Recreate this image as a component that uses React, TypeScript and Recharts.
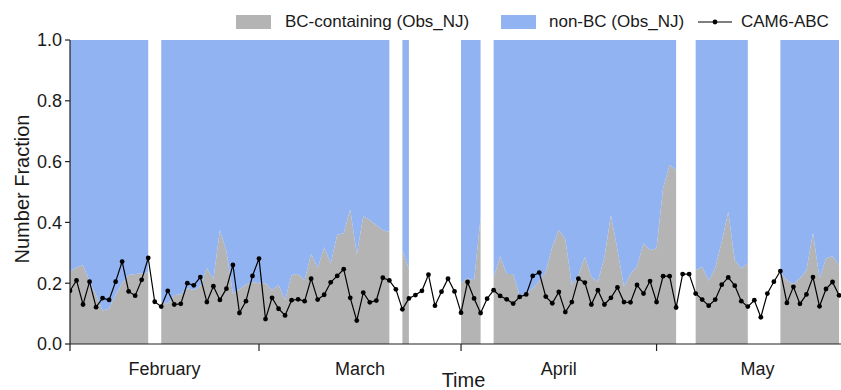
import React from 'react';
import { ComposedChart, Area, Line, XAxis, YAxis } from 'recharts';

// Day index counted from 1 February (leap year: Feb has 29 days)
const dayIndex: number[] = Array.from({ length: 119 }, (_, i) => i);

// Observed BC-containing number fraction (Obs_NJ); null = no observation
const bcContaining: (number | null)[] = [
  0.238, 0.252, 0.26, 0.205, 0.161, 0.109, 0.117, 0.161, 0.2, 0.227,
  0.23, 0.232, 0.235, null, 0.14, 0.132, 0.161, 0.163, 0.183, 0.178,
  0.191, 0.249, 0.213, 0.375, 0.305, 0.165, 0.18, 0.196, 0.204, 0.2,
  0.2, 0.178, 0.194, 0.145, 0.227, 0.23, 0.21, 0.297, 0.249, 0.318,
  0.265, 0.359, 0.364, 0.443, 0.295, 0.42, 0.408, 0.391, 0.374, 0.369,
  null, 0.309, 0.247, null, null, null, null, null, null, null,
  0.2, 0.216, 0.21, 0.415, null, 0.218, 0.289, 0.23, 0.23, 0.158,
  0.165, 0.183, 0.207, 0.238, 0.32, 0.375, 0.345, 0.194, 0.226, 0.287,
  0.22, 0.205, 0.285, 0.424, 0.31, 0.189, 0.23, 0.255, 0.331, 0.308,
  0.315, 0.512, 0.589, 0.572, null, null, 0.243, 0.253, 0.208, 0.25,
  0.336, 0.435, 0.276, 0.248, 0.266, null, null, null, null, 0.238,
  0.21, 0.197, 0.216, 0.243, 0.366, 0.216, 0.282, 0.289, 0.26,
];

// Model CAM6-ABC BC-containing number fraction
const cam6Abc: number[] = [
  0.175, 0.209, 0.13, 0.205, 0.121, 0.151, 0.145, 0.205, 0.271, 0.173,
  0.159, 0.211, 0.283, 0.139, 0.123, 0.175, 0.13, 0.132, 0.2, 0.193,
  0.22, 0.138, 0.19, 0.145, 0.182, 0.26, 0.102, 0.141, 0.224, 0.281,
  0.082, 0.152, 0.116, 0.094, 0.144, 0.147, 0.141, 0.215, 0.146, 0.162,
  0.203, 0.224, 0.246, 0.152, 0.077, 0.169, 0.137, 0.143, 0.218, 0.209,
  0.18, 0.114, 0.15, 0.161, 0.175, 0.228, 0.126, 0.172, 0.215, 0.173,
  0.103, 0.204, 0.15, 0.102, 0.149, 0.177, 0.158, 0.147, 0.133, 0.155,
  0.163, 0.224, 0.235, 0.156, 0.134, 0.171, 0.105, 0.138, 0.215, 0.202,
  0.13, 0.177, 0.13, 0.152, 0.186, 0.138, 0.137, 0.194, 0.166, 0.207,
  0.138, 0.223, 0.223, 0.12, 0.23, 0.23, 0.166, 0.146, 0.126, 0.146,
  0.195, 0.219, 0.192, 0.141, 0.123, 0.144, 0.088, 0.166, 0.205, 0.24,
  0.135, 0.188, 0.132, 0.163, 0.22, 0.124, 0.181, 0.204, 0.16,
];

const monthStartDays = [0, 29, 60, 90];
const monthLabelDays = [14.5, 44.5, 75, 105.5];
const monthNames = ['February', 'March', 'April', 'May'];
const yTicks = [0, 0.2, 0.4, 0.6, 0.8, 1.0];

const GRAY = '#b4b4b4';
const BLUE = '#91b3f1';
const FONT = '"Liberation Sans", Arial, Helvetica, sans-serif';
const AXIS = '#222';

const data = dayIndex.map((d, i) => {
  const bc = bcContaining[i];
  return {
    day: d,
    bc,
    nonbc: bc == null ? null : 1 - bc,
    cam: cam6Abc[i],
  };
});

const MonthTick = (props: any) => {
  const { x, y, payload } = props;
  const v = payload.value;
  const si = monthStartDays.indexOf(v);
  if (si >= 0) {
    return <line x1={x} x2={x} y1={y} y2={y + 7} stroke={AXIS} strokeWidth={1.2} />;
  }
  const li = monthLabelDays.indexOf(v);
  if (li < 0) return null;
  return (
    <text x={x} y={y + 31} textAnchor="middle" fontSize={18} fill="#1a1a1a" fontFamily={FONT}>
      {monthNames[li]}
    </text>
  );
};

const TimeLabel = (props: any) => {
  const vb = props.viewBox || { x: 70, y: 344, width: 771, height: 46 };
  return (
    <text x={vb.x + vb.width / 2 + 8} y={vb.y + 43} textAnchor="middle" fontSize={20} fill="#1a1a1a" fontFamily={FONT}>
      Time
    </text>
  );
};

const YLabel = (props: any) => {
  const vb = props.viewBox || { x: 0, y: 40, width: 70, height: 304 };
  const cx = vb.x + 22;
  const cy = vb.y + vb.height / 2 - 3;
  return (
    <text
      x={cx}
      y={cy}
      transform={`rotate(-90, ${cx}, ${cy})`}
      textAnchor="middle"
      dominantBaseline="central"
      fontSize={20}
      fill="#1a1a1a"
      fontFamily={FONT}
    >
      Number Fraction
    </text>
  );
};

const legendText: React.CSSProperties = {
  position: 'absolute',
  top: 12,
  fontSize: 17,
  lineHeight: '20px',
  color: '#1a1a1a',
  fontFamily: FONT,
  whiteSpace: 'nowrap',
};

export default function App() {
  const ticks = [...monthStartDays, ...monthLabelDays].sort((a, b) => a - b);
  return (
    <div style={{ position: 'absolute', left: 0, top: 0, width: 841, height: 390, background: '#fff', fontFamily: FONT }}>
      <ComposedChart width={841} height={390} data={data} margin={{ top: 40, right: 0, bottom: 0, left: 0 }}>
        <XAxis
          dataKey="day"
          type="number"
          domain={[0, 118.3]}
          allowDataOverflow
          ticks={ticks}
          interval={0}
          tickLine={false}
          tickSize={0}
          tickMargin={0}
          tick={<MonthTick />}
          axisLine={{ stroke: AXIS, strokeWidth: 1.2 }}
          height={46}
          label={{ content: (p: any) => <TimeLabel {...p} /> }}
        />
        <YAxis
          type="number"
          domain={[0, 1]}
          ticks={yTicks}
          interval={0}
          tickFormatter={(v: number) => v.toFixed(1)}
          width={70}
          tickSize={5}
          tickMargin={3}
          tickLine={{ stroke: AXIS, strokeWidth: 1.2 }}
          axisLine={{ stroke: AXIS, strokeWidth: 1.2 }}
          tick={{ fontSize: 18, fill: '#1a1a1a', fontFamily: FONT }}
          label={{ content: (p: any) => <YLabel {...p} /> }}
        />
        <Area
          type="linear"
          dataKey="bc"
          stackId="obs"
          fill={GRAY}
          fillOpacity={1}
          stroke="none"
          isAnimationActive={false}
          dot={false}
          activeDot={false}
        />
        <Area
          type="linear"
          dataKey="nonbc"
          stackId="obs"
          fill={BLUE}
          fillOpacity={1}
          stroke="none"
          isAnimationActive={false}
          dot={false}
          activeDot={false}
        />
        <Line
          type="linear"
          dataKey="cam"
          stroke="#000"
          strokeWidth={1.2}
          dot={{ r: 2.4, fill: '#000', stroke: '#000', strokeWidth: 0 }}
          activeDot={false}
          isAnimationActive={false}
        />
      </ComposedChart>
      <div style={{ position: 'absolute', left: 236, top: 15, width: 35, height: 14, background: GRAY }} />
      <div style={{ ...legendText, left: 285 }}>BC-containing (Obs_NJ)</div>
      <div style={{ position: 'absolute', left: 501, top: 15, width: 35, height: 14, background: BLUE }} />
      <div style={{ ...legendText, left: 549 }}>non-BC (Obs_NJ)</div>
      <svg style={{ position: 'absolute', left: 697, top: 17 }} width={36} height={10}>
        <line x1={1} x2={35} y1={5} y2={5} stroke="#000" strokeWidth={1.2} />
        <circle cx={18} cy={5} r={2.4} fill="#000" />
      </svg>
      <div style={{ ...legendText, left: 741 }}>CAM6-ABC</div>
    </div>
  );
}
